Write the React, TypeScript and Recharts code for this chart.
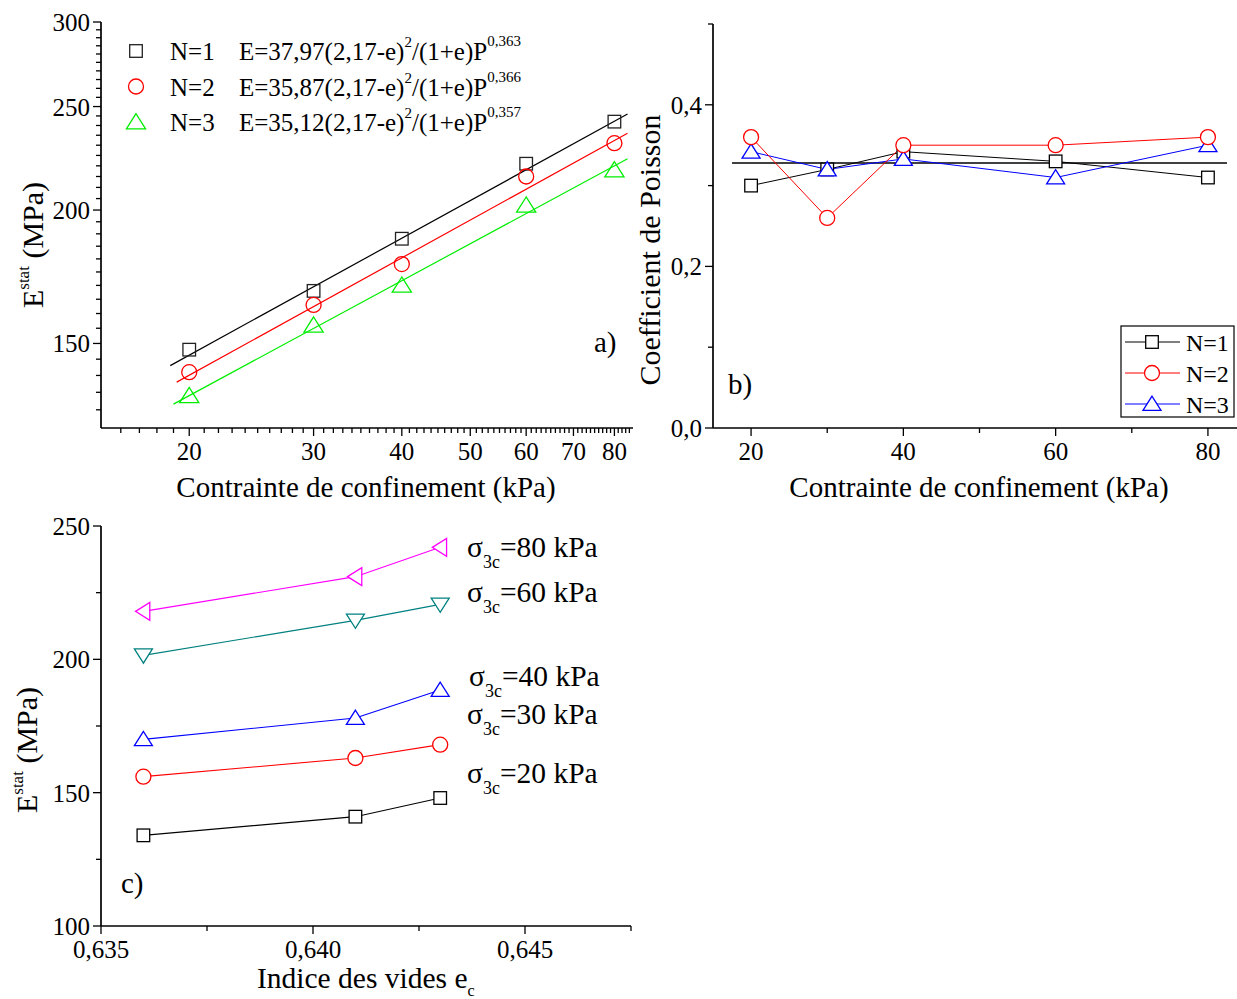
import React from "react";
import { ComposedChart, Line, Scatter, XAxis, YAxis } from "recharts";

const FONT = '"Liberation Serif", "Times New Roman", Times, serif';
const AXIS = { stroke: "#000", strokeWidth: 1.7 };

// ---- (a) E stat vs confining stress (log-log)
const pressures = [20, 30, 40, 60, 80];
const modulusN1 = [148, 168, 188, 221, 242];
const modulusN2 = [141, 163, 178, 215, 231];
const modulusN3 = [134, 156, 170, 202, 218];

// power-law fit lines, end points
const fitPressureN1 = [18.8, 83.5];
const fitModulusN1 = [143, 246];
const fitPressureN2 = [19.2, 83.5];
const fitModulusN2 = [138, 236];
const fitPressureN3 = [19.0, 83.5];
const fitModulusN3 = [131.6, 223.4];

const seriesNames = ["N=1", "N=2", "N=3"];
const fitFormulas = ["E=37,97(2,17-e)", "E=35,87(2,17-e)", "E=35,12(2,17-e)"];
const fitExponents = ["0,363", "0,366", "0,357"];

const logXMajor = [20, 30, 40, 50, 60, 70, 80];
const logXTicks = Array.from({ length: 69 }, (_, i) => 16 + i);
const logYMajor = [150, 200, 250, 300];
const logYTicks = Array.from({ length: 35 }, (_, i) => 130 + i * 5);

// ---- (b) Poisson ratio
const poissonN1 = [0.3, 0.32, 0.342, 0.33, 0.31];
const poissonN2 = [0.36, 0.26, 0.35, 0.35, 0.36];
const poissonN3 = [0.342, 0.32, 0.333, 0.31, 0.35];
const poissonMeanPressure = [17.5, 82.5];
const poissonMean = [0.328, 0.328];

const bXTicks = [20, 30, 40, 50, 60, 70, 80];
const bXMajor = [20, 40, 60, 80];
const bYTicks = [0, 0.1, 0.2, 0.3, 0.4, 0.5];
const bYMajor = [0, 0.2, 0.4];

// ---- (c) E stat vs void ratio
const voidRatios = [0.636, 0.641, 0.643];
const modulusAt20 = [134, 141, 148];
const modulusAt30 = [156, 163, 168];
const modulusAt40 = [170, 178, 188.5];
const modulusAt60 = [201.5, 214.6, 220.6];
const modulusAt80 = [218, 231, 242];

const cXTicks = [0.635, 0.6375, 0.64, 0.6425, 0.645, 0.6475];
const cXMajor = [0.635, 0.64, 0.645];
const cYTicks = [100, 125, 150, 175, 200, 225, 250];
const cYMajor = [100, 150, 200, 250];

const toPoints = (xs: number[], ys: number[]) => xs.map((x, i) => ({ x, y: ys[i] }));
const comma = (digits: number) => (v: number) => v.toFixed(digits).replace(".", ",");

type Kind = "square" | "circle" | "up" | "down" | "left";

function Marker({ cx, cy, kind, color, size = 15, fill = "#fff" }: { cx: number; cy: number; kind: Kind; color: string; size?: number; fill?: string }) {
  const h = size / 2;
  const common = { fill, stroke: color, strokeWidth: 1.3 };
  if (cx == null || cy == null || isNaN(cx) || isNaN(cy)) return null;
  switch (kind) {
    case "square":
      return <rect x={cx - h * 0.84} y={cy - h * 0.84} width={h * 1.68} height={h * 1.68} {...common} />;
    case "circle":
      return <circle cx={cx} cy={cy} r={h} {...common} />;
    case "up":
      return <polygon points={`${cx},${cy - h * 1.05} ${cx - h * 1.2},${cy + h * 0.85} ${cx + h * 1.2},${cy + h * 0.85}`} {...common} />;
    case "down":
      return <polygon points={`${cx},${cy + h * 1.05} ${cx - h * 1.2},${cy - h * 0.85} ${cx + h * 1.2},${cy - h * 0.85}`} {...common} />;
    default:
      return <polygon points={`${cx - h * 1.05},${cy} ${cx + h * 0.85},${cy - h * 1.2} ${cx + h * 0.85},${cy + h * 1.2}`} {...common} />;
  }
}

const dotOf = (kind: Kind, color: string, fill = "#fff") => (p: any) => (
  <Marker key={`d-${p.index}`} cx={p.cx} cy={p.cy} kind={kind} color={color} fill={fill} />
);

type Side = "bottom" | "left" | "top" | "right";

function makeTick(side: Side, majors: number[], format?: (v: number) => string, inward = false) {
  return (props: any) => {
    const { x, y, payload } = props;
    const v = Number(payload.value);
    const isMajor = majors.some((m) => Math.abs(m - v) < 1e-7);
    const len = isMajor ? 8 : 5;
    const s = inward ? -1 : 1;
    const label = format && isMajor ? format(v) : null;
    const stroke = { stroke: "#000", strokeWidth: 1.3 };
    const txt = { fontFamily: FONT, fontSize: 25, fill: "#000" };
    if (side === "bottom") {
      return (
        <g>
          <line x1={x} y1={y} x2={x} y2={y + s * len} {...stroke} />
          {label && <text x={x} y={y + 32} textAnchor="middle" {...txt}>{label}</text>}
        </g>
      );
    }
    if (side === "top") {
      return <line x1={x} y1={y} x2={x} y2={y - s * len} {...stroke} />;
    }
    if (side === "right") {
      return <line x1={x} y1={y} x2={x + s * len} y2={y} {...stroke} />;
    }
    return (
      <g>
        <line x1={x} y1={y} x2={x - s * len} y2={y} {...stroke} />
        {label && <text x={x - 11} y={y + 9} textAnchor="end" {...txt}>{label}</text>}
      </g>
    );
  };
}

const axisCommon = {
  type: "number" as const,
  allowDataOverflow: true,
  interval: 0 as const,
  tickLine: false,
  tickSize: 0,
  tickMargin: 0,
  axisLine: AXIS,
};

function PanelA() {
  return (
    <ComposedChart width={640} height={500} margin={{ top: 22, right: 7, bottom: 0, left: 0 }}>
      <XAxis {...axisCommon} dataKey="x" scale="log" domain={[15, 85]} ticks={logXTicks} tick={makeTick("bottom", logXMajor, String)} height={72} />
      <XAxis {...axisCommon} xAxisId="top" orientation="top" dataKey="x" scale="log" domain={[15, 85]} ticks={logXTicks} tick={makeTick("top", logXMajor)} height={0} />
      <YAxis {...axisCommon} dataKey="y" scale="log" domain={[125, 300]} ticks={logYTicks} tick={makeTick("left", logYMajor, String)} width={101} />
      <YAxis {...axisCommon} yAxisId="right" orientation="right" dataKey="y" scale="log" domain={[125, 300]} ticks={logYTicks} tick={makeTick("right", logYMajor, undefined, true)} width={0} />
      <Line data={toPoints(fitPressureN1, fitModulusN1)} dataKey="y" stroke="#000" strokeWidth={1.2} dot={false} activeDot={false} isAnimationActive={false} />
      <Line data={toPoints(fitPressureN2, fitModulusN2)} dataKey="y" stroke="#ff0000" strokeWidth={1.2} dot={false} activeDot={false} isAnimationActive={false} />
      <Line data={toPoints(fitPressureN3, fitModulusN3)} dataKey="y" stroke="#00ee00" strokeWidth={1.2} dot={false} activeDot={false} isAnimationActive={false} />
      <Scatter data={toPoints(pressures, modulusN1)} isAnimationActive={false} shape={(p: any) => <Marker cx={p.cx} cy={p.cy} kind="square" color="#222" fill="none" />} />
      <Scatter data={toPoints(pressures, modulusN2)} isAnimationActive={false} shape={(p: any) => <Marker cx={p.cx} cy={p.cy} kind="circle" color="#ff0000" fill="none" />} />
      <Scatter data={toPoints(pressures, modulusN3)} isAnimationActive={false} shape={(p: any) => <Marker cx={p.cx} cy={p.cy} kind="up" color="#00ee00" fill="none" size={16} />} />
    </ComposedChart>
  );
}

function PanelB() {
  const rows = pressures.map((p, i) => ({ x: p, n1: poissonN1[i], n2: poissonN2[i], n3: poissonN3[i] }));
  return (
    <ComposedChart width={610} height={500} margin={{ top: 24, right: 4, bottom: 0, left: 0 }} data={rows}>
      <XAxis {...axisCommon} dataKey="x" domain={[15, 85]} ticks={bXTicks} tick={makeTick("bottom", bXMajor, String)} height={72} />
      <XAxis {...axisCommon} xAxisId="top" orientation="top" dataKey="x" domain={[15, 85]} ticks={bXTicks} tick={makeTick("top", bXMajor)} height={0} />
      <YAxis {...axisCommon} domain={[0, 0.5]} ticks={bYTicks} tick={makeTick("left", bYMajor, comma(1))} width={73} />
      <Line data={toPoints(poissonMeanPressure, poissonMean)} dataKey="y" stroke="#000" strokeWidth={1.3} dot={false} activeDot={false} isAnimationActive={false} />
      <Line dataKey="n1" stroke="#000" strokeWidth={1} dot={dotOf("square", "#000")} activeDot={false} isAnimationActive={false} />
      <Line dataKey="n3" stroke="#0000ff" strokeWidth={1} dot={dotOf("up", "#0000ff")} activeDot={false} isAnimationActive={false} />
      <Line dataKey="n2" stroke="#ff0000" strokeWidth={1} dot={dotOf("circle", "#ff0000")} activeDot={false} isAnimationActive={false} />
    </ComposedChart>
  );
}

function PanelC() {
  const rows = voidRatios.map((e, i) => ({
    x: e,
    s20: modulusAt20[i],
    s30: modulusAt30[i],
    s40: modulusAt40[i],
    s60: modulusAt60[i],
    s80: modulusAt80[i],
  }));
  return (
    <ComposedChart width={640} height={499} margin={{ top: 26, right: 9, bottom: 0, left: 0 }} data={rows}>
      <XAxis {...axisCommon} dataKey="x" domain={[0.635, 0.6475]} ticks={cXTicks} tick={makeTick("bottom", cXMajor, comma(3))} height={73} />
      <XAxis {...axisCommon} xAxisId="top" orientation="top" dataKey="x" domain={[0.635, 0.6475]} ticks={cXTicks} tick={makeTick("top", cXMajor)} height={0} />
      <YAxis {...axisCommon} domain={[100, 250]} ticks={cYTicks} tick={makeTick("left", cYMajor, String)} width={101} />
      <YAxis {...axisCommon} yAxisId="right" orientation="right" domain={[100, 250]} ticks={cYTicks} tick={makeTick("right", cYMajor, undefined, true)} width={0} />
      <Line dataKey="s20" stroke="#000" strokeWidth={1.1} dot={dotOf("square", "#000")} activeDot={false} isAnimationActive={false} />
      <Line dataKey="s30" stroke="#ff0000" strokeWidth={1.1} dot={dotOf("circle", "#ff0000")} activeDot={false} isAnimationActive={false} />
      <Line dataKey="s40" stroke="#0000ff" strokeWidth={1.1} dot={dotOf("up", "#0000ff")} activeDot={false} isAnimationActive={false} />
      <Line dataKey="s60" stroke="#008080" strokeWidth={1.1} dot={dotOf("down", "#008080")} activeDot={false} isAnimationActive={false} />
      <Line dataKey="s80" stroke="#ff00ff" strokeWidth={1.1} dot={dotOf("left", "#ff00ff")} activeDot={false} isAnimationActive={false} />
    </ComposedChart>
  );
}

const sigmaLabels = ["80", "60", "40", "30", "20"];
const sigmaLabelPos = [
  [467, 557],
  [467, 602],
  [469, 686],
  [467, 724],
  [467, 783],
];

function Annotations() {
  const t = { fontFamily: FONT, fill: "#000" };
  const aKinds: Kind[] = ["square", "circle", "up"];
  const aColors = ["#222", "#ff0000", "#00ee00"];
  const bColors = ["#000", "#ff0000", "#0000ff"];
  return (
    <svg width={1237} height={999} style={{ position: "absolute", left: 0, top: 0, pointerEvents: "none" }}>
      {/* panel a */}
      <text transform="translate(43,245) rotate(-90)" textAnchor="middle" fontSize={30} {...t}>
        E<tspan dy={-14} fontSize={17}>stat</tspan>
        <tspan dy={14}> (MPa)</tspan>
      </text>
      <text x={366} y={497} textAnchor="middle" fontSize={29} {...t}>Contrainte de confinement (kPa)</text>
      <text x={594} y={352} fontSize={29} {...t}>a)</text>
      {seriesNames.map((name, i) => {
        const cy = 51 + i * 35.5;
        return (
          <g key={name}>
            <Marker cx={136} cy={cy} kind={aKinds[i]} color={aColors[i]} fill="none" size={i === 2 ? 16 : 15} />
            <text x={170} y={cy + 9} fontSize={25} {...t}>{name}</text>
            <text x={239} y={cy + 9} fontSize={25} {...t}>
              {fitFormulas[i]}
              <tspan dy={-13} fontSize={15}>2</tspan>
              <tspan dy={13}>/(1+e)P</tspan>
              <tspan dy={-14} fontSize={15}>{fitExponents[i]}</tspan>
            </text>
          </g>
        );
      })}

      {/* panel b */}
      <text transform="translate(660,250) rotate(-90)" textAnchor="middle" fontSize={30} {...t}>Coefficient de Poisson</text>
      <text x={979} y={497} textAnchor="middle" fontSize={29} {...t}>Contrainte de confinement (kPa)</text>
      <text x={728} y={394} fontSize={29} {...t}>b)</text>
      <rect x={1121} y={326} width={113} height={91} fill="#fff" stroke="#000" strokeWidth={1.2} />
      {seriesNames.map((name, i) => {
        const cy = 342 + i * 31;
        return (
          <g key={`b-${name}`}>
            <line x1={1125} y1={cy} x2={1180} y2={cy} stroke={bColors[i]} strokeWidth={1.1} />
            <Marker cx={1152} cy={cy} kind={aKinds[i]} color={bColors[i]} />
            <text x={1186} y={cy + 9} fontSize={24} {...t}>{name}</text>
          </g>
        );
      })}

      {/* panel c */}
      <text transform="translate(37,750) rotate(-90)" textAnchor="middle" fontSize={30} {...t}>
        E<tspan dy={-14} fontSize={17}>stat</tspan>
        <tspan dy={14}> (MPa)</tspan>
      </text>
      <text x={257} y={988} fontSize={29.5} {...t}>
        Indice des vides e<tspan dy={8} fontSize={16}>c</tspan>
      </text>
      <text x={121} y={893} fontSize={29} {...t}>c)</text>
      {sigmaLabels.map((s, i) => (
        <text key={s} x={sigmaLabelPos[i][0]} y={sigmaLabelPos[i][1]} fontSize={29.5} {...t}>
          σ<tspan dy={11} fontSize={18}>3c</tspan>
          <tspan dy={-11}>={s} kPa</tspan>
        </text>
      ))}
    </svg>
  );
}

export default function App() {
  return (
    <div style={{ position: "absolute", left: 0, top: 0, width: 1237, height: 999, overflow: "hidden", background: "#fff", fontFamily: FONT }}>
      <div style={{ position: "absolute", left: 0, top: 0 }}>
        <PanelA />
      </div>
      <div style={{ position: "absolute", left: 640, top: 0 }}>
        <PanelB />
      </div>
      <div style={{ position: "absolute", left: 0, top: 500 }}>
        <PanelC />
      </div>
      <Annotations />
    </div>
  );
}
